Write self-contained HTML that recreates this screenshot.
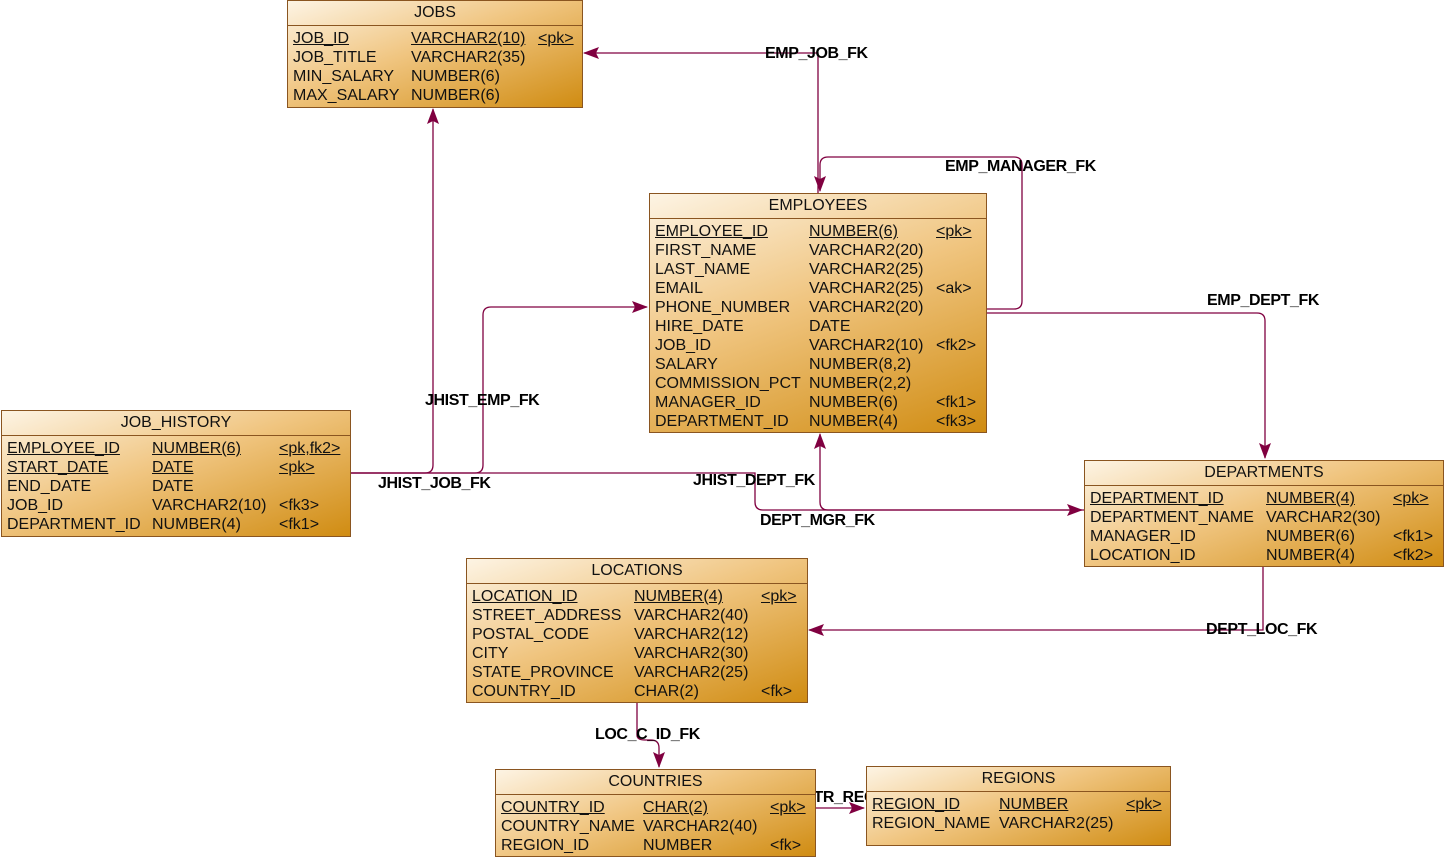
<!DOCTYPE html>
<html><head><meta charset="utf-8"><style>
body{margin:0;width:1448px;height:860px;background:#fff;position:relative;overflow:hidden;font-family:"Liberation Sans",sans-serif;}
.t{position:absolute;box-sizing:border-box;border:1px solid #8a5520;background:linear-gradient(160deg,#fdf4e4 0%,#f0c580 45%,#d08c12 100%);color:#111;font-size:16px;}
.h{height:24px;line-height:24px;text-align:center;border-bottom:1px solid #8a5520;}
.r{position:relative;height:19px;line-height:19px;}
.h + .r{margin-top:3px}
.r span{position:absolute;top:0;white-space:nowrap}
.u{text-decoration:underline}
.l{position:absolute;font-weight:bold;font-size:16px;color:#000;white-space:nowrap;line-height:16px;letter-spacing:-0.4px}
svg{position:absolute;left:0;top:0}
</style></head><body>
<svg width="1448" height="860">
<defs><marker id="a" markerWidth="16" markerHeight="12" refX="15" refY="6" orient="auto" markerUnits="userSpaceOnUse"><path d="M0,0 L16,6 L0,12 L3,6 z" fill="#800040"/></marker></defs>
<g fill="none" stroke="#800040" stroke-width="1.3">
<path d="M818,193 V53 H584" marker-end="url(#a)"/>
<path d="M986,309 H1014 Q1022,309 1022,301 V165 Q1022,157 1014,157 H828 Q820,157 820,165 V191" marker-end="url(#a)"/>
<path d="M986,313 H1257 Q1265,313 1265,321 V458" marker-end="url(#a)"/>
<path d="M350,473 H475 Q483,473 483,465 V315 Q483,307 491,307 H647" marker-end="url(#a)"/>
<path d="M350,473 H425 Q433,473 433,465 V109" marker-end="url(#a)"/>
<path d="M350,473 H755 V502 Q755,510 763,510 H1082" marker-end="url(#a)"/>
<path d="M1084,510 H828 Q820,510 820,502 V434" marker-end="url(#a)"/>
<path d="M1263,566 V630 H809" marker-end="url(#a)"/>
<path d="M637,702 V735 Q637,740 645,740 H651 Q659,740 659,748 V767" marker-end="url(#a)"/>
<path d="M815,808 H864" marker-end="url(#a)"/>
</g></svg>

<div class="l" style="left:765px;top:46px">EMP_JOB_FK</div>
<div class="l" style="left:945px;top:159px">EMP_MANAGER_FK</div>
<div class="l" style="left:1207px;top:293px">EMP_DEPT_FK</div>
<div class="l" style="left:425px;top:393px">JHIST_EMP_FK</div>
<div class="l" style="left:378px;top:476px">JHIST_JOB_FK</div>
<div class="l" style="left:693px;top:473px">JHIST_DEPT_FK</div>
<div class="l" style="left:760px;top:513px">DEPT_MGR_FK</div>
<div class="l" style="left:1206px;top:622px">DEPT_LOC_FK</div>
<div class="l" style="left:595px;top:727px">LOC_C_ID_FK</div>
<div class="l" style="left:768px;top:790px">COUNTR_REG_FK</div>

<div class="t" style="left:287px;top:0;width:296px;height:108px">
<div class="h">JOBS</div>
<div class="r"><span class="u" style="left:5px">JOB_ID</span><span class="u" style="left:123px">VARCHAR2(10)</span><span class="u" style="left:250px">&lt;pk&gt;</span></div>
<div class="r"><span style="left:5px">JOB_TITLE</span><span style="left:123px">VARCHAR2(35)</span></div>
<div class="r"><span style="left:5px">MIN_SALARY</span><span style="left:123px">NUMBER(6)</span></div>
<div class="r"><span style="left:5px">MAX_SALARY</span><span style="left:123px">NUMBER(6)</span></div>
</div>

<div class="t" style="left:649px;top:193px;width:338px;height:240px">
<div class="h">EMPLOYEES</div>
<div class="r"><span class="u" style="left:5px">EMPLOYEE_ID</span><span class="u" style="left:159px">NUMBER(6)</span><span class="u" style="left:286px">&lt;pk&gt;</span></div>
<div class="r"><span style="left:5px">FIRST_NAME</span><span style="left:159px">VARCHAR2(20)</span></div>
<div class="r"><span style="left:5px">LAST_NAME</span><span style="left:159px">VARCHAR2(25)</span></div>
<div class="r"><span style="left:5px">EMAIL</span><span style="left:159px">VARCHAR2(25)</span><span style="left:286px">&lt;ak&gt;</span></div>
<div class="r"><span style="left:5px">PHONE_NUMBER</span><span style="left:159px">VARCHAR2(20)</span></div>
<div class="r"><span style="left:5px">HIRE_DATE</span><span style="left:159px">DATE</span></div>
<div class="r"><span style="left:5px">JOB_ID</span><span style="left:159px">VARCHAR2(10)</span><span style="left:286px">&lt;fk2&gt;</span></div>
<div class="r"><span style="left:5px">SALARY</span><span style="left:159px">NUMBER(8,2)</span></div>
<div class="r"><span style="left:5px">COMMISSION_PCT</span><span style="left:159px">NUMBER(2,2)</span></div>
<div class="r"><span style="left:5px">MANAGER_ID</span><span style="left:159px">NUMBER(6)</span><span style="left:286px">&lt;fk1&gt;</span></div>
<div class="r"><span style="left:5px">DEPARTMENT_ID</span><span style="left:159px">NUMBER(4)</span><span style="left:286px">&lt;fk3&gt;</span></div>
</div>

<div class="t" style="left:1px;top:410px;width:350px;height:127px">
<div class="h">JOB_HISTORY</div>
<div class="r"><span class="u" style="left:5px">EMPLOYEE_ID</span><span class="u" style="left:150px">NUMBER(6)</span><span class="u" style="left:277px">&lt;pk,fk2&gt;</span></div>
<div class="r"><span class="u" style="left:5px">START_DATE</span><span class="u" style="left:150px">DATE</span><span class="u" style="left:277px">&lt;pk&gt;</span></div>
<div class="r"><span style="left:5px">END_DATE</span><span style="left:150px">DATE</span></div>
<div class="r"><span style="left:5px">JOB_ID</span><span style="left:150px">VARCHAR2(10)</span><span style="left:277px">&lt;fk3&gt;</span></div>
<div class="r"><span style="left:5px">DEPARTMENT_ID</span><span style="left:150px">NUMBER(4)</span><span style="left:277px">&lt;fk1&gt;</span></div>
</div>

<div class="t" style="left:1084px;top:460px;width:360px;height:107px">
<div class="h">DEPARTMENTS</div>
<div class="r"><span class="u" style="left:5px">DEPARTMENT_ID</span><span class="u" style="left:181px">NUMBER(4)</span><span class="u" style="left:308px">&lt;pk&gt;</span></div>
<div class="r"><span style="left:5px">DEPARTMENT_NAME</span><span style="left:181px">VARCHAR2(30)</span></div>
<div class="r"><span style="left:5px">MANAGER_ID</span><span style="left:181px">NUMBER(6)</span><span style="left:308px">&lt;fk1&gt;</span></div>
<div class="r"><span style="left:5px">LOCATION_ID</span><span style="left:181px">NUMBER(4)</span><span style="left:308px">&lt;fk2&gt;</span></div>
</div>

<div class="t" style="left:466px;top:558px;width:342px;height:145px">
<div class="h">LOCATIONS</div>
<div class="r"><span class="u" style="left:5px">LOCATION_ID</span><span class="u" style="left:167px">NUMBER(4)</span><span class="u" style="left:294px">&lt;pk&gt;</span></div>
<div class="r"><span style="left:5px">STREET_ADDRESS</span><span style="left:167px">VARCHAR2(40)</span></div>
<div class="r"><span style="left:5px">POSTAL_CODE</span><span style="left:167px">VARCHAR2(12)</span></div>
<div class="r"><span style="left:5px">CITY</span><span style="left:167px">VARCHAR2(30)</span></div>
<div class="r"><span style="left:5px">STATE_PROVINCE</span><span style="left:167px">VARCHAR2(25)</span></div>
<div class="r"><span style="left:5px">COUNTRY_ID</span><span style="left:167px">CHAR(2)</span><span style="left:294px">&lt;fk&gt;</span></div>
</div>

<div class="t" style="left:495px;top:769px;width:321px;height:88px">
<div class="h">COUNTRIES</div>
<div class="r"><span class="u" style="left:5px">COUNTRY_ID</span><span class="u" style="left:147px">CHAR(2)</span><span class="u" style="left:274px">&lt;pk&gt;</span></div>
<div class="r"><span style="left:5px">COUNTRY_NAME</span><span style="left:147px">VARCHAR2(40)</span></div>
<div class="r"><span style="left:5px">REGION_ID</span><span style="left:147px">NUMBER</span><span style="left:274px">&lt;fk&gt;</span></div>
</div>

<div class="t" style="left:866px;top:766px;width:305px;height:80px">
<div class="h">REGIONS</div>
<div class="r"><span class="u" style="left:5px">REGION_ID</span><span class="u" style="left:132px">NUMBER</span><span class="u" style="left:259px">&lt;pk&gt;</span></div>
<div class="r"><span style="left:5px">REGION_NAME</span><span style="left:132px">VARCHAR2(25)</span></div>
</div>
</body></html>
